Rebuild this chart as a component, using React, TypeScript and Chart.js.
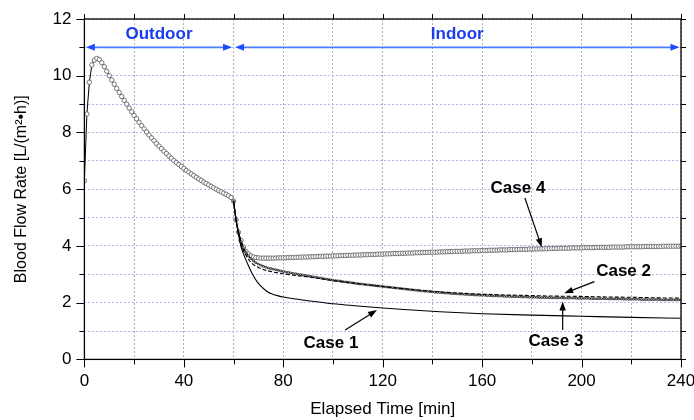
import React, { useEffect, useRef } from "react";
import { Chart, registerables } from "chart.js";
Chart.register(...registerables);

// ---- data ----
const xTickLabels = [0, 40, 80, 120, 160, 200, 240];
const yTickLabels = [0, 2, 4, 6, 8, 10, 12];

// Case 4: one point per minute from t = 0
const case4Start = 0;
const case4Values = [
  6.30, 8.65, 9.77, 10.38, 10.55, 10.61, 10.57, 10.46, 10.32, 10.16, 10.00,
  9.85, 9.70, 9.55, 9.41, 9.27, 9.13, 9.00, 8.86, 8.73, 8.60,
  8.48, 8.36, 8.24, 8.13, 8.02, 7.91, 7.81, 7.71, 7.61, 7.52,
  7.43, 7.34, 7.26, 7.17, 7.09, 7.01, 6.94, 6.87, 6.80, 6.73,
  6.66, 6.60, 6.54, 6.48, 6.42, 6.36, 6.31, 6.25, 6.20, 6.15,
  6.10, 6.05, 6.00, 5.95, 5.91, 5.86, 5.82, 5.77, 5.71, 5.58,
  4.92, 4.48, 4.19, 3.96, 3.81, 3.71, 3.65, 3.61, 3.59, 3.58,
  3.57, 3.57, 3.57, 3.57, 3.57, 3.57, 3.57, 3.58, 3.58, 3.58,
  3.58, 3.59, 3.59, 3.59, 3.60, 3.60, 3.60, 3.61, 3.61, 3.61,
  3.62, 3.62, 3.62, 3.63, 3.63, 3.63, 3.64, 3.64, 3.64, 3.65,
  3.65, 3.65, 3.66, 3.66, 3.66, 3.67, 3.67, 3.67, 3.68, 3.68,
  3.68, 3.69, 3.69, 3.69, 3.70, 3.70, 3.70, 3.71, 3.71, 3.71,
  3.72, 3.72, 3.72, 3.73, 3.73, 3.73, 3.74, 3.74, 3.74, 3.75,
  3.75, 3.75, 3.76, 3.76, 3.76, 3.77, 3.77, 3.77, 3.78, 3.78,
  3.78, 3.78, 3.79, 3.79, 3.79, 3.80, 3.80, 3.80, 3.81, 3.81,
  3.81, 3.81, 3.82, 3.82, 3.82, 3.83, 3.83, 3.83, 3.83, 3.84,
  3.84, 3.84, 3.85, 3.85, 3.85, 3.85, 3.86, 3.86, 3.86, 3.86,
  3.87, 3.87, 3.87, 3.87, 3.88, 3.88, 3.88, 3.88, 3.89, 3.89,
  3.89, 3.89, 3.90, 3.90, 3.90, 3.90, 3.91, 3.91, 3.91, 3.91,
  3.92, 3.92, 3.92, 3.92, 3.92, 3.93, 3.93, 3.93, 3.93, 3.93,
  3.94, 3.94, 3.94, 3.94, 3.94, 3.95, 3.95, 3.95, 3.95, 3.95,
  3.95, 3.96, 3.96, 3.96, 3.96, 3.96, 3.96, 3.97, 3.97, 3.97,
  3.97, 3.97, 3.97, 3.97, 3.98, 3.98, 3.98, 3.98, 3.98, 3.98,
  3.98, 3.98, 3.99, 3.99, 3.99, 3.99, 3.99, 3.99, 3.99, 4.00,
];

// Case 3: one point per minute from t = 60
const case3Start = 60;
const case3Values = [
  5.58,
  4.92, 4.47, 4.15, 3.93, 3.77, 3.65, 3.55, 3.47, 3.41, 3.36,
  3.32, 3.28, 3.25, 3.22, 3.20, 3.18, 3.16, 3.14, 3.12, 3.10,
  3.08, 3.07, 3.05, 3.03, 3.02, 3.00, 2.99, 2.97, 2.96, 2.94,
  2.93, 2.91, 2.90, 2.88, 2.87, 2.85, 2.84, 2.82, 2.81, 2.79,
  2.78, 2.77, 2.76, 2.74, 2.73, 2.72, 2.71, 2.70, 2.68, 2.67,
  2.66, 2.65, 2.64, 2.63, 2.62, 2.61, 2.60, 2.59, 2.58, 2.57,
  2.56, 2.55, 2.54, 2.53, 2.52, 2.51, 2.50, 2.49, 2.48, 2.47,
  2.46, 2.45, 2.44, 2.43, 2.42, 2.41, 2.40, 2.40, 2.39, 2.38,
  2.37, 2.36, 2.36, 2.35, 2.34, 2.34, 2.33, 2.32, 2.32, 2.31,
  2.30, 2.30, 2.29, 2.29, 2.28, 2.28, 2.27, 2.27, 2.26, 2.26,
  2.26, 2.25, 2.25, 2.24, 2.24, 2.24, 2.23, 2.23, 2.22, 2.22,
  2.22, 2.21, 2.21, 2.21, 2.21, 2.20, 2.20, 2.20, 2.19, 2.19,
  2.19, 2.19, 2.18, 2.18, 2.18, 2.18, 2.18, 2.17, 2.17, 2.17,
  2.17, 2.17, 2.16, 2.16, 2.16, 2.16, 2.16, 2.15, 2.15, 2.15,
  2.15, 2.15, 2.15, 2.14, 2.14, 2.14, 2.14, 2.14, 2.14, 2.14,
  2.13, 2.13, 2.13, 2.13, 2.13, 2.13, 2.12, 2.12, 2.12, 2.12,
  2.12, 2.12, 2.12, 2.11, 2.11, 2.11, 2.11, 2.11, 2.11, 2.11,
  2.11, 2.10, 2.10, 2.10, 2.10, 2.10, 2.10, 2.10, 2.10, 2.10,
];

// Case 1 (solid line)
const case1Times = [60, 61, 62, 63, 64, 65, 66, 67, 68, 69, 70, 71, 72, 73, 74, 75, 76, 78, 80, 85, 90, 100, 105, 110, 120, 130, 143, 160, 180, 200, 220, 240];
const case1Values = [5.58, 4.92, 4.40, 3.98, 3.72, 3.50, 3.30, 3.11, 2.95, 2.80, 2.68, 2.58, 2.50, 2.43, 2.37, 2.32, 2.29, 2.24, 2.20, 2.13, 2.07, 1.96, 1.92, 1.88, 1.81, 1.75, 1.68, 1.61, 1.56, 1.52, 1.48, 1.45];

// Case 2 (dashed line)
const case2Times = [60, 61, 62, 63, 64, 65, 66, 67, 68, 70, 72, 74, 76, 78, 80, 85, 90, 100, 110, 120, 130, 140, 150, 160, 170, 180, 190, 200, 210, 220, 230, 240];
const case2Values = [5.58, 4.92, 4.45, 4.10, 3.85, 3.67, 3.53, 3.42, 3.34, 3.24, 3.17, 3.12, 3.08, 3.05, 3.02, 2.96, 2.91, 2.78, 2.67, 2.57, 2.48, 2.40, 2.34, 2.30, 2.27, 2.25, 2.23, 2.22, 2.20, 2.19, 2.17, 2.16];

// Period labels and the case call-outs (data coordinates)
const periodLabels = ["Outdoor", "Indoor"];
const periodStart = [0, 60];
const periodEnd = [60, 240];
const periodArrowValue = 11;

const caseNames = ["Case 1", "Case 2", "Case 3", "Case 4"];
const caseTextAt = [[99.2, 0.58], [216.9, 3.12], [189.7, 0.63], [174.4, 6.03]];
const caseArrowFrom = [[104.9, 1.04], [205.2, 2.74], [192.4, 1.04], [177.2, 5.69]];
const caseArrowTo = [[117.7, 1.74], [193.0, 2.33], [192.4, 2.04], [184.0, 3.95]];

const FONT = "'Liberation Sans', Arial, sans-serif";

function arrowHead(ctx: CanvasRenderingContext2D, x1: number, y1: number, x2: number, y2: number, len: number, half: number) {
  const a = Math.atan2(y2 - y1, x2 - x1);
  ctx.beginPath();
  ctx.moveTo(x2, y2);
  ctx.lineTo(x2 - len * Math.cos(a) + half * Math.sin(a), y2 - len * Math.sin(a) - half * Math.cos(a));
  ctx.lineTo(x2 - len * Math.cos(a) - half * Math.sin(a), y2 - len * Math.sin(a) + half * Math.cos(a));
  ctx.closePath();
  ctx.fill();
}

const overlay = {
  id: "overlay",
  afterDatasetsDraw(chart: any) {
    const { ctx, chartArea: ca, scales } = chart;
    const xs = scales.x;
    const ys = scales.y;
    ctx.save();
    // frame
    ctx.strokeStyle = "#000";
    ctx.lineWidth = 1.3;
    ctx.strokeRect(ca.left, ca.top, ca.right - ca.left, ca.bottom - ca.top);
    // ticks
    ctx.lineWidth = 1;
    ctx.beginPath();
    for (let v = 0; v <= 240; v += 20) {
      const px = Math.round(xs.getPixelForValue(v)) + 0.5;
      const major = v % 40 === 0;
      ctx.moveTo(px, ca.bottom);
      ctx.lineTo(px, ca.bottom + (major ? 8 : 5));
      ctx.moveTo(px, ca.top);
      ctx.lineTo(px, ca.top - 5);
    }
    for (let v = 0; v <= 12; v += 1) {
      const py = Math.round(ys.getPixelForValue(v)) + 0.5;
      const major = v % 2 === 0;
      ctx.moveTo(ca.left, py);
      ctx.lineTo(ca.left - (major ? 8 : 5), py);
      ctx.moveTo(ca.right, py);
      ctx.lineTo(ca.right + 5, py);
    }
    ctx.stroke();

    // period arrows
    const ay = ys.getPixelForValue(periodArrowValue);
    for (let i = 0; i < periodLabels.length; i++) {
      const x1 = xs.getPixelForValue(periodStart[i]) + 1.5;
      const x2 = xs.getPixelForValue(periodEnd[i]) - 1.5;
      ctx.strokeStyle = "#4d7dff";
      ctx.lineWidth = 1.6;
      ctx.beginPath();
      ctx.moveTo(x1 + 4, ay);
      ctx.lineTo(x2 - 4, ay);
      ctx.stroke();
      ctx.fillStyle = "#1a4dff";
      arrowHead(ctx, x2, ay, x1, ay, 9, 3.5);
      arrowHead(ctx, x1, ay, x2, ay, 9, 3.5);
      ctx.fillStyle = "#1a3cf0";
      ctx.font = `bold 17px ${FONT}`;
      ctx.textAlign = "center";
      ctx.textBaseline = "middle";
      const tx = xs.getPixelForValue((periodStart[i] + periodEnd[i]) / 2);
      ctx.fillText(periodLabels[i], tx, ys.getPixelForValue(11.45));
    }

    // case call-outs
    ctx.fillStyle = "#000";
    ctx.strokeStyle = "#000";
    ctx.font = `bold 17px ${FONT}`;
    for (let i = 0; i < caseNames.length; i++) {
      ctx.fillText(caseNames[i], xs.getPixelForValue(caseTextAt[i][0]), ys.getPixelForValue(caseTextAt[i][1]));
      const x1 = xs.getPixelForValue(caseArrowFrom[i][0]);
      const y1 = ys.getPixelForValue(caseArrowFrom[i][1]);
      const x2 = xs.getPixelForValue(caseArrowTo[i][0]);
      const y2 = ys.getPixelForValue(caseArrowTo[i][1]);
      ctx.lineWidth = 1.2;
      ctx.beginPath();
      ctx.moveTo(x1, y1);
      const a = Math.atan2(y2 - y1, x2 - x1);
      ctx.lineTo(x2 - 6 * Math.cos(a), y2 - 6 * Math.sin(a));
      ctx.stroke();
      arrowHead(ctx, x1, y1, x2, y2, 9, 3.2);
    }
    ctx.restore();
  },
};

export default function App() {
  const ref = useRef<HTMLCanvasElement | null>(null);
  useEffect(() => {
    if (!ref.current) return;
    const case4 = case4Values.map((v, i) => ({ x: case4Start + i, y: v }));
    const case3 = case3Values.map((v, i) => ({ x: case3Start + i, y: v }));
    const case1 = case1Times.map((t, i) => ({ x: t, y: case1Values[i] }));
    const case2 = case2Times.map((t, i) => ({ x: t, y: case2Values[i] }));
    const chart = new Chart(ref.current, {
      type: "line",
      data: {
        datasets: [
          { label: "Case 1", data: case1, borderColor: "#000", borderWidth: 1.1, pointRadius: 0, cubicInterpolationMode: "monotone", fill: false },
          { label: "Case 2", data: case2, borderColor: "#000", borderWidth: 1.1, borderDash: [4, 2], pointRadius: 0, cubicInterpolationMode: "monotone", fill: false },
          { label: "Case 3", data: case3, borderColor: "#000", borderWidth: 1.2, pointRadius: 1.2, pointStyle: "rect", pointBackgroundColor: "#fff", pointBorderColor: "#222", pointBorderWidth: 0.7, fill: false },
          { label: "Case 4", data: case4, borderColor: "#000", borderWidth: 1, pointRadius: 2.2, pointStyle: "circle", pointBackgroundColor: "#fff", pointBorderColor: "#555", pointBorderWidth: 0.8, fill: false },
        ],
      },
      options: {
        responsive: false,
        animation: false,
        events: [],
        layout: { padding: { left: 0, top: 19, right: 13, bottom: 0 } },
        plugins: { legend: { display: false }, tooltip: { enabled: false } },
        scales: {
          x: {
            type: "linear",
            min: 0,
            max: 240,
            afterFit: (s: any) => { s.height = 60.6; s.paddingLeft = 0; s.paddingRight = 0; },
            ticks: {
              stepSize: 20,
              autoSkip: false,
              maxRotation: 0,
              padding: 12,
              color: "#000",
              font: { family: FONT, size: 17 },
              callback: (v: any) => (xTickLabels.includes(v) ? String(v) : ""),
            },
            grid: { color: "#b0b0b0", lineWidth: 1, drawTicks: false },
            border: { display: false, dash: [2, 2] },
            title: { display: true, text: "Elapsed Time [min]", color: "#000", font: { family: FONT, size: 17 }, padding: { top: 0, bottom: 0 } },
          },
          y: {
            type: "linear",
            min: 0,
            max: 12,
            afterFit: (s: any) => { s.width = 84.4; s.paddingTop = 0; s.paddingBottom = 0; },
            ticks: {
              stepSize: 1,
              autoSkip: false,
              padding: 13,
              color: "#000",
              font: { family: FONT, size: 17 },
              callback: (v: any) => (yTickLabels.includes(v) ? String(v) : ""),
            },
            grid: { color: "#b4b4f0", lineWidth: 1, drawTicks: false },
            border: { display: false, dash: [2, 2] },
            title: { display: true, text: "Blood Flow Rate [L/(m²•h)]", color: "#000", font: { family: FONT, size: 16 }, padding: { top: 12, bottom: 0 } },
          },
        },
      },
      plugins: [overlay],
    } as any);
    return () => chart.destroy();
  }, []);
  return (
    <div style={{ position: "absolute", left: 0, top: 0, width: 694, height: 420, background: "#fff" }}>
      <canvas ref={ref} width={694} height={420} style={{ display: "block", width: 694, height: 420 }} />
    </div>
  );
}
